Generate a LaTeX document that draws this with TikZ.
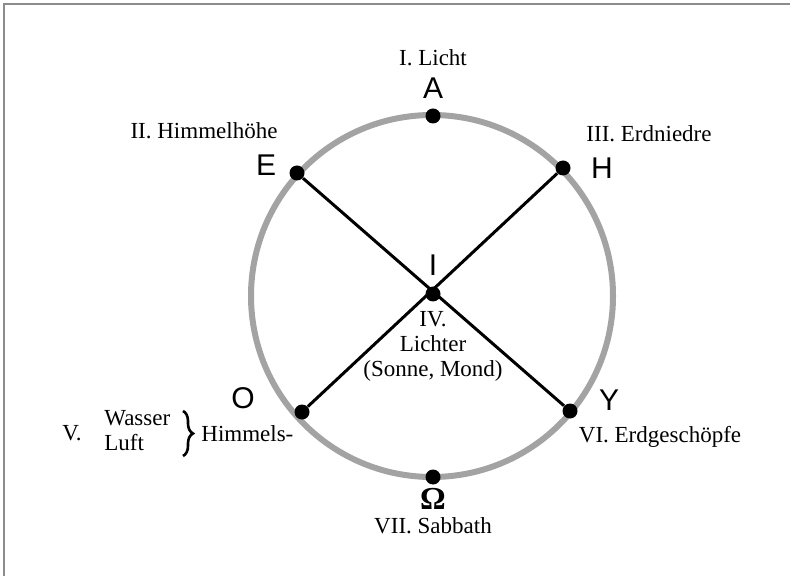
\documentclass[tikz,border=0pt]{standalone}
\usepackage{fontspec}
\setmainfont{Liberation Serif}
\newfontfamily\letterfont{Liberation Sans}
\usetikzlibrary{decorations.pathreplacing}
\definecolor{ring}{HTML}{A3A3A3}
\definecolor{frame}{HTML}{8C8C8C}

\tikzset{
  dot/.style={circle,fill=black,inner sep=0pt,minimum size=7.5pt},
  letter/.style={font=\letterfont\fontsize{15}{17}\selectfont},
  day/.style={font=\fontsize{11.5}{12.5}\selectfont},
}

\begin{document}
\begin{tikzpicture}[x=0.5pt,y=-0.5pt]
\useasboundingbox (0,0) rectangle (790,576);
\draw[frame,line width=1pt] (4,576) -- (4,4) -- (790,4);
% ring and the seven points
\draw[ring,line width=3pt] (432,296) circle (90.5pt);
\node[dot] (A) at (433,116) {};
\node[dot] (E) at (297,173) {};
\node[dot] (H) at (563,168) {};
\node[dot] (I) at (433,294) {};
\node[dot] (O) at (302,412) {};
\node[dot] (Y) at (570,411) {};
\node[dot] (W) at (433,477) {};
\draw[line width=1.5pt] (E) -- (Y);
\draw[line width=1.5pt] (H) -- (O);
% letters
\node[letter] (lA) at (433,88) {A};
\node[letter] (lE) at (266,165) {E};
\node[letter] (lH) at (602,168) {H};
\node[letter] (lI) at (433,265) {I};
\node[letter] (lO) at (243,398) {O};
\node[letter] (lY) at (609,400) {Y};
\node[font=\fontsize{16}{17}\selectfont\bfseries] (lW) at (433,499) {Ω};
% days
\node[day] (d1) at (433,58) {I. Licht};
\node[day] (d2) at (204,131) {II. Himmelhöhe};
\node[day] (d3) at (649,134) {III. Erdniedre};
\node[day,align=center] (d4) at (433,346) {IV.\\Lichter\\(Sonne, Mond)};
\node[day] (d5) at (72,433) {V.};
\node[day,align=left,anchor=west,inner sep=0pt] (d5a) at (104,431) {Wasser\\Luft};
\draw[line width=1.3pt,decorate,decoration={brace,amplitude=5pt}] (183,411) -- (183,456);
\node[day,anchor=west,inner sep=0pt] (d5b) at (201,434) {Himmels-};
\node[day] (d6) at (660,437) {VI. Erdgeschöpfe};
\node[day] (d7) at (433,526) {VII. Sabbath};
\end{tikzpicture}
\end{document}
